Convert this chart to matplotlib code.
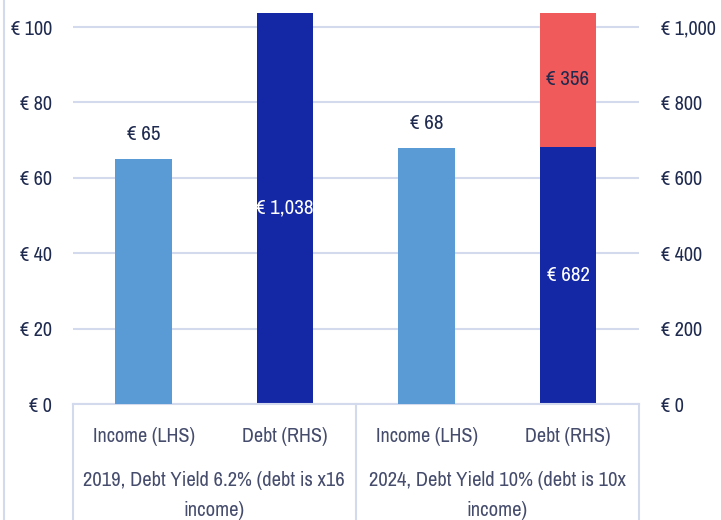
import matplotlib.pyplot as plt
from matplotlib.lines import Line2D
from matplotlib import font_manager

names = sorted({f.name for f in font_manager.fontManager.ttflist})
narrow = [n for n in names if 'Narrow' in n or 'Condensed' in n]
plt.rcParams['font.family'] = narrow + ['Roboto', 'DejaVu Sans']

# data
bar_labels = ['Income (LHS)', 'Debt (RHS)', 'Income (LHS)', 'Debt (RHS)']
groups = ['2019, Debt Yield 6.2% (debt is x16\nincome)',
          '2024, Debt Yield 10% (debt is 10x\nincome)']
income = [65, 68]
debt_base = [1038, 682]
debt_extra = [0, 356]
left_ticks = [0, 20, 40, 60, 80, 100]
right_ticks = [0, 200, 400, 600, 800, 1000]

navy = '#1F2A4F'
grey_text = '#454C6C'
light_blue = '#5B9BD5'
dark_blue = '#1427A5'
red = '#F05A5A'
grid_col = '#D3DAEE'

fig = plt.figure(figsize=(7.21, 5.2), dpi=100)
ax = fig.add_axes([0.101, 0.223, 0.785, 0.754])
ax2 = ax.twinx()

width = 0.4
inc_pos = [0, 2]
debt_pos = [1, 3]

ax.bar(inc_pos, income, width, color=light_blue, zorder=3)
ax2.bar(debt_pos, debt_base, width, color=dark_blue, zorder=3)
ax2.bar(debt_pos, debt_extra, width, bottom=debt_base, color=red, zorder=3)

ax.set_ylim(0, 104)
ax2.set_ylim(0, 1040)
ax.set_xlim(-0.5, 3.5)

ax.set_yticks(left_ticks)
ax.set_yticklabels(['€ %d' % v for v in left_ticks])
ax2.set_yticks(right_ticks)
ax2.set_yticklabels(['€ {:,}'.format(v) for v in right_ticks])

for a in (ax, ax2):
    for s in a.spines.values():
        s.set_visible(False)
    a.tick_params(axis='y', length=0, labelsize=14.5, labelcolor=navy)
ax.tick_params(axis='y', pad=15)
ax2.tick_params(axis='y', pad=16)
ax.set_xticks([])
ax2.yaxis.grid(True, color=grid_col, linewidth=1.5, zorder=0)
ax2.set_axisbelow(True)
ax.set_zorder(1)
ax.patch.set_visible(False)
ax2.set_zorder(0)

# value labels
for x, v in zip(inc_pos, income):
    ax.text(x, v + 4, '€ %d' % v, ha='center', va='bottom', fontsize=15, color=navy, zorder=4)
ax2.text(debt_pos[0], debt_base[0] / 2, '€ {:,}'.format(debt_base[0]), ha='center', va='center',
         fontsize=15, color='white', zorder=4)
ax2.text(debt_pos[1], debt_base[1] / 2, '€ {:,}'.format(debt_base[1]), ha='center', va='center',
         fontsize=15, color='white', zorder=4)
ax2.text(debt_pos[1], debt_base[1] + debt_extra[1] / 2, '€ {:,}'.format(debt_extra[1]),
         ha='center', va='center', fontsize=15, color=navy, zorder=4)

# multi-level category axis
trans = ax.get_xaxis_transform()
for i, lab in enumerate(bar_labels):
    ax.text(i, -0.082, lab, transform=trans, ha='center', va='center', fontsize=14.5, color=grey_text)
for i, g in enumerate(groups):
    ax.text(0.5 + 2 * i, -0.233, g, transform=trans, ha='center', va='center', fontsize=14.8,
            color=grey_text, linespacing=1.75)

line_kw = dict(color=grid_col, linewidth=1.5, clip_on=False)
ax.add_line(Line2D([-0.5, 3.5], [0, 0], transform=trans, **line_kw))
for xv in [-0.5, 1.5, 3.5]:
    ax.add_line(Line2D([xv, xv], [0, -0.3], transform=trans, **line_kw))

fig.add_artist(Line2D([0.006, 0.006], [0, 1], transform=fig.transFigure, color=grid_col, linewidth=1.5))

fig.savefig('out.png', dpi=100)
